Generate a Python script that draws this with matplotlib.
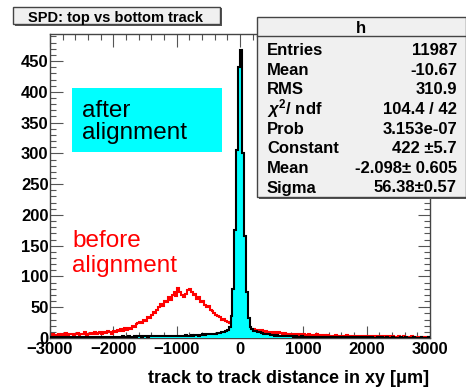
import matplotlib
matplotlib.use("Agg")
import matplotlib.pyplot as plt
from matplotlib.patches import Rectangle
from matplotlib.ticker import MultipleLocator
import numpy as np

# ---------------- data ----------------
x_min, x_max, n_bins = -3000, 3000, 200
bin_edges = np.linspace(x_min, x_max, n_bins + 1)

before_counts = [
    4, 6, 5, 3, 7, 5, 6, 4, 8, 5, 6, 7, 4, 6, 8, 5, 7,
    6, 9, 5, 7, 8, 6, 10, 7, 8, 9, 6, 10, 8, 11, 9, 7, 12,
    10, 13, 11, 14, 12, 16, 13, 17, 15, 19, 18, 22, 24,
    26, 24, 30, 28, 34, 33, 38, 42, 40, 46,
    50, 55, 52, 60, 58, 66, 62, 70, 74, 68,
    82, 74, 70, 66, 72, 78, 80,
    74, 70, 72, 64, 66, 58, 60, 54, 50, 52,
    46, 44, 40, 38, 36, 34, 30, 31, 28, 26,
    24, 22, 21, 20, 19, 18, 18, 17, 17, 16, 16, 15,
    14, 15, 12, 13, 11, 13, 10, 12, 10, 9,
    10, 8, 9, 7, 9, 8, 6, 8, 7, 6, 7, 5, 7, 6, 5, 6, 5,
    6, 5, 4, 6, 5, 4, 5, 6, 4, 5, 4, 5, 3, 5, 4, 4, 3, 5, 4, 3,
    4, 4, 3, 5, 3, 4, 3, 4, 3, 4, 3, 3, 4, 3,
    3, 4, 3, 3, 2, 4, 3, 2, 3, 3, 2, 3, 2, 3, 2, 2, 3, 2, 2, 3,
    2, 2, 1, 3, 2, 2, 1, 2, 2, 1, 2, 1, 2,
]

after_counts = [
    1, 0, 1, 1, 0, 1, 0, 1, 1, 0, 1, 1, 0, 1, 1, 2, 1, 0, 1, 1,
    1, 2, 1, 1, 2, 1, 1, 2, 1, 2, 2, 1, 2, 2,
    2, 2, 1, 2, 3, 2, 2, 3, 2, 2, 3, 2, 3, 3, 2, 3, 3, 2, 3, 3,
    3, 4, 3, 3, 4, 3, 3, 4, 3, 4, 3, 4, 4,
    4, 4, 3, 4, 5, 4, 4, 5, 4, 5, 5, 4, 5, 6, 5, 6, 6,
    6, 7, 6, 7, 8, 8, 9, 10, 11, 13,
    18, 35, 80, 175, 305, 440, 468, 300, 165, 75, 32, 18,
    14, 12, 11, 9, 9, 8, 7, 7, 6, 6,
    5, 5, 4, 5, 4, 4, 3, 4, 3, 3, 3, 3, 2, 3, 2, 2, 3,
    2, 2, 2, 1, 2, 2, 1, 2, 1, 1, 2, 1, 1, 1, 2, 1, 1, 1, 0, 1,
    1, 1, 0, 1, 1, 0, 1, 1, 0, 1, 1, 0, 1, 0,
    1, 0, 1, 0, 0, 1, 0, 1, 0, 0, 1, 0, 0, 1, 0, 0, 0, 1, 0, 0,
    1, 0, 0, 0, 1, 0, 0, 0, 1, 0, 0, 0, 1,
]

x_ticks = [-3000, -2000, -1000, 0, 1000, 2000, 3000]
y_ticks = [0, 50, 100, 150, 200, 250, 300, 350, 400, 450]

title_text = "SPD: top vs bottom track"
stats_header = "h"
stats_names = ["Entries", "Mean", "RMS", r"$\chi^2$/ ndf", "Prob", "Constant", "Mean", "Sigma"]
stats_values = ["11987", "-10.67", "310.9", "104.4 / 42", "3.153e-07",
                "422 ±5.7", "-2.098± 0.605", "56.38±0.57"]
x_label = "track to track distance in xy [μm]"

# ---------------- figure ----------------
W, H = 466, 388
FONT = "Liberation Sans"
plt.rcParams["mathtext.fontset"] = "custom"
plt.rcParams["mathtext.it"] = "Liberation Sans:italic:bold"
plt.rcParams["mathtext.rm"] = "Liberation Sans:bold"
fig = plt.figure(figsize=(W / 100, H / 100), dpi=100)
fig.patch.set_facecolor("white")

def fx(px):
    return px / W

def fy(py):
    return 1 - py / H

ax_l, ax_r, ax_t, ax_b = 50, 430, 34, 338
ax = fig.add_axes([fx(ax_l), fy(ax_b), fx(ax_r - ax_l), (ax_b - ax_t) / H])

ax.stairs(before_counts, bin_edges, color="red", lw=1.5, zorder=2)
ax.stairs(after_counts, bin_edges, fill=True, color="#00ffff", zorder=3)
ax.stairs(after_counts, bin_edges, color="black", lw=1.5, zorder=4)

ax.set_xlim(x_min, x_max)
ax.set_ylim(0, 494)
ax.set_xticks(x_ticks)
ax.set_yticks(y_ticks)
ax.xaxis.set_minor_locator(MultipleLocator(200))
ax.yaxis.set_minor_locator(MultipleLocator(10))
ax.tick_params(which="both", direction="in", top=True, right=True,
               labelsize=12, width=0.8, color="#555555")
ax.tick_params(which="major", length=9)
ax.tick_params(which="minor", length=4.5)
for lab in ax.get_xticklabels() + ax.get_yticklabels():
    lab.set_fontweight("bold")
    lab.set_family(FONT)
ax.tick_params(axis="x", pad=3)
ax.tick_params(axis="y", pad=1)
for s in ax.spines.values():
    s.set_linewidth(1.0)
    s.set_color("#444444")

fig.text(fx(429), fy(383), x_label, ha="right", va="baseline",
         fontsize=13, fontweight="bold", family=FONT)

# title box
fig.add_artist(Rectangle((fx(15), fy(26)), fx(207), (18) / H, transform=fig.transFigure,
                         facecolor="#555555", edgecolor="none", zorder=5))
fig.add_artist(Rectangle((fx(13), fy(24)), fx(207), (17) / H, transform=fig.transFigure,
                         facecolor="#f0f0f0", edgecolor="#444444", lw=1, zorder=6))
fig.text(fx(116), fy(22), title_text, ha="center", va="baseline", fontsize=10.5,
         fontweight="bold", family=FONT, zorder=7)

# stats box
bx0, by0, bx1, by1 = 257, 17, 466, 197
fig.add_artist(Rectangle((fx(bx0 + 2), fy(by1 + 2)), fx(bx1 - bx0), (by1 - by0) / H,
                         transform=fig.transFigure, facecolor="#555555", edgecolor="none", zorder=5))
fig.add_artist(Rectangle((fx(bx0), fy(by1)), fx(bx1 - bx0), (by1 - by0) / H,
                         transform=fig.transFigure, facecolor="#f0f0f0",
                         edgecolor="#444444", lw=1, zorder=6))
fig.add_artist(plt.Line2D([fx(bx0), fx(bx1)], [fy(36), fy(36)], transform=fig.transFigure,
                          color="#444444", lw=1, zorder=7))
fig.text(fx(361), fy(33), stats_header, ha="center", va="baseline", fontsize=12,
         fontweight="bold", family=FONT, zorder=8)
row_base = [55, 74.7, 94.4, 114, 133.8, 153.5, 173, 192.5]
for name, val, yy in zip(stats_names, stats_values, row_base):
    fig.text(fx(267), fy(yy), name, ha="left", va="baseline", fontsize=12,
             fontweight="bold", family=FONT, zorder=8)
    fig.text(fx(457), fy(yy), val, ha="right", va="baseline", fontsize=12,
             fontweight="bold", family=FONT, zorder=8)

# annotations
fig.add_artist(Rectangle((fx(72), fy(152)), fx(150), (152 - 88) / H, transform=fig.transFigure,
                         facecolor="#00ffff", edgecolor="none", zorder=5))
fig.text(fx(82), fy(117), "after", ha="left", va="baseline", fontsize=17.5,
         family=FONT, zorder=6)
fig.text(fx(82), fy(139), "alignment", ha="left", va="baseline", fontsize=17.5,
         family=FONT, zorder=6)
fig.text(fx(72), fy(247), "before", ha="left", va="baseline", fontsize=17.5,
         family=FONT, color="red", zorder=6)
fig.text(fx(72), fy(272), "alignment", ha="left", va="baseline", fontsize=17.5,
         family=FONT, color="red", zorder=6)

fig.savefig("out.png", dpi=100)
